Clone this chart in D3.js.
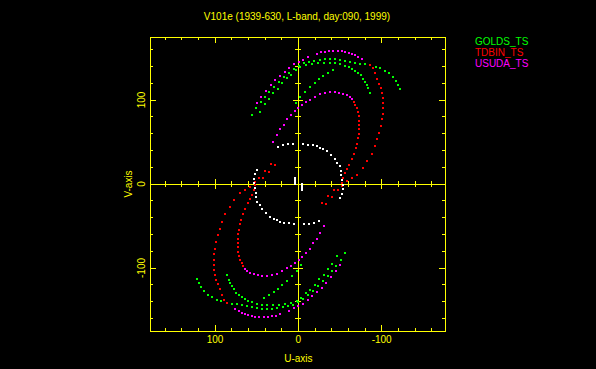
<!DOCTYPE html>
<html>
<head>
<meta charset="utf-8">
<script src="https://cdn.jsdelivr.net/npm/d3@7"></script>
<style>
  html, body { margin: 0; padding: 0; background: #000; }
  svg { display: block; }
  text { font-family: "Liberation Sans", Arial, sans-serif; font-size: 10px; }
</style>
</head>
<body>
<svg id="chart" width="596" height="369"></svg>
<script>
// baseline names shown in the legend
const baselines = ["GOLDS_TS", "TDBIN_TS", "USUDA_TS"];
const baselineColors = ["#00ff00", "#ff0000", "#ff00ff"];

// measured (u, v) samples, one half only; the conjugate (-u, -v) is plotted too
const goldsOuter = [[55.6,82.1],[50.8,90.4],[44.8,97.6],[40.0,103.5],[35.2,109.5],[29.2,115.4],[23.2,121.4],[17.2,127.3],[11.2,132.1],[5.2,136.9],[-0.8,140.4],[-6.8,144.0],[-12.8,145.2],[-18.8,146.4],[-26.0,147.6],[-32.0,148.8],[-38.0,148.8],[-44.0,148.8],[-50.0,147.6],[-56.0,146.4],[-62.0,145.2],[-68.0,144.0],[-74.0,142.8],[-80.0,142.8],[-86.0,141.6],[-93.2,139.2],[-98.0,138.0],[-104.0,134.5],[-108.8,132.1],[-113.6,127.3],[-117.2,122.6],[-119.6,117.8],[-122.0,113.1]];
const goldsMiddle = [[46.0,85.7],[40.0,95.2],[35.2,101.2],[30.4,108.3],[24.4,113.1],[19.6,120.2],[13.6,126.1],[8.8,129.7],[2.8,135.7],[-2.0,139.2],[-9.2,141.6],[-16.4,142.8],[-23.6,144.0],[-30.8,144.0],[-38.0,144.0],[-44.0,144.0],[-50.0,142.8],[-56.0,140.4],[-60.8,139.2],[-64.4,136.9],[-68.0,134.5],[-71.6,132.1],[-75.2,129.7],[-77.6,125.0],[-80.0,121.4],[-82.4,117.8],[-83.6,114.2],[-86.0,108.3]];
const goldsInner = [[2.8,96.6],[-2.0,103.8],[-8.0,109.7],[-14.0,115.6],[-20.0,120.4],[-24.8,125.2],[-29.6,128.7],[-35.6,132.3],[-41.6,135.9]];
const tdbinOuter = [[-86.0,141.6],[-89.6,138.0],[-92.0,132.1],[-94.4,125.0],[-96.8,119.0],[-99.2,114.2],[-100.4,108.3],[-101.6,102.3],[-101.6,96.4],[-101.6,90.4],[-101.6,83.3],[-100.4,77.4],[-99.2,69.0],[-96.8,60.7],[-94.4,53.6],[-92.0,45.2],[-88.4,35.7],[-82.4,27.4],[-77.6,19.0],[-70.4,10.7],[-64.4,7.1],[-58.4,3.6],[-52.4,-2.4],[-47.6,-7.1],[-40.4,-15.5],[-33.2,-23.8]];
const tdbinInner = [[-66.8,97.6],[-68.0,94.0],[-70.4,90.4],[-71.6,85.7],[-72.8,80.9],[-72.8,75.0],[-72.8,70.2],[-72.8,65.5],[-72.8,59.5],[-71.6,54.7],[-70.4,47.6],[-69.2,42.8],[-66.8,35.7],[-64.4,29.8],[-60.8,22.6],[-58.4,17.9],[-56.0,13.1],[-53.6,7.1],[-52.4,1.2],[-42.8,-7.1],[-35.6,-14.3],[-28.4,-22.6]];
const usudaOuter = [[49.6,96.4],[44.8,103.5],[38.8,110.7],[32.8,117.8],[28.0,123.8],[22.0,128.5],[16.0,133.3],[11.2,138.0],[5.2,142.8],[-0.8,145.2],[-5.6,147.6],[-11.6,151.1],[-22.4,154.7],[-27.2,157.1],[-32.0,157.1],[-36.8,158.3],[-41.6,158.3],[-47.6,158.3],[-52.4,158.3],[-56.0,157.1],[-60.8,155.9],[-64.4,154.7],[-68.0,153.5],[-71.6,151.1],[-76.4,148.8]];
const usudaInner = [[30.4,50.0],[25.6,58.3],[22.0,65.5],[17.2,70.2],[13.6,77.4],[8.8,82.1],[4.0,86.9],[0.4,90.4],[-4.4,94.0],[-9.2,97.6],[-14.0,100.0],[-20.0,103.5],[-26.0,107.1],[-32.0,108.3],[-38.0,109.5],[-44.0,109.5],[-48.8,108.3],[-53.6,107.1],[-58.4,105.9],[-62.0,103.5],[-64.4,101.2]];
const otherTrack = [[24.4,44.0],[18.4,46.4],[12.4,47.6],[6.4,47.6],[-5.6,47.6],[-11.6,46.4],[-17.6,46.4],[-22.4,45.2],[-26.0,42.8],[-29.6,41.7],[-34.4,39.3],[-39.2,34.5],[-44.0,29.8],[-46.4,25.0],[-50.0,21.4],[-51.2,15.5],[-51.2,10.7],[-52.4,4.8],[-53.6,-1.2],[-53.6,-6.0],[-52.4,-11.9],[-50.0,-16.7]];
const shortTrack = [[4.5,7.2],[4.5,6.0],[4.5,4.8],[4.5,3.6],[4.5,2.4],[4.5,1.2],[4.5,0.2]];

// axis ticks
const tickStep = 20;
const tickLabels = [100, 0, -100];
const titleText = "V101e (1939-630, L-band, day:090, 1999)";

const yellow = "#ffff00";
const svg = d3.select("#chart");
svg.append("rect").attr("width", 596).attr("height", 369).attr("fill", "#000");

const x = d3.scaleLinear().domain([178, -176]).range([150, 445]);
const y = d3.scaleLinear().domain([-175, 175]).range([331, 37]);
const [x0, x1] = x.range();
const [y0, y1] = [y.range()[1], y.range()[0]];

const ticks = d3.range(-160, 161, tickStep);
const isMajor = (t) => t % 100 === 0;

const axes = svg.append("g")
  .attr("stroke", yellow)
  .attr("stroke-width", 1)
  .attr("shape-rendering", "crispEdges");

// frame
axes.append("rect")
  .attr("x", x0).attr("y", y0)
  .attr("width", x1 - x0).attr("height", y1 - y0)
  .attr("fill", "none");

// zero lines
axes.append("line").attr("x1", x0).attr("x2", x1).attr("y1", y(0)).attr("y2", y(0));
axes.append("line").attr("x1", x(0)).attr("x2", x(0)).attr("y1", y0).attr("y2", y1);

// frame ticks (pointing inward)
const tl = (t) => (isMajor(t) ? 6 : 3);
axes.selectAll(".tb").data(ticks).join("line")
  .attr("x1", (d) => x(d)).attr("x2", (d) => x(d))
  .attr("y1", y1).attr("y2", (d) => y1 - tl(d));
axes.selectAll(".tt").data(ticks).join("line")
  .attr("x1", (d) => x(d)).attr("x2", (d) => x(d))
  .attr("y1", y0).attr("y2", (d) => y0 + tl(d));
axes.selectAll(".tlft").data(ticks).join("line")
  .attr("y1", (d) => y(d)).attr("y2", (d) => y(d))
  .attr("x1", x0).attr("x2", (d) => x0 + tl(d));
axes.selectAll(".trgt").data(ticks).join("line")
  .attr("y1", (d) => y(d)).attr("y2", (d) => y(d))
  .attr("x1", x1).attr("x2", (d) => x1 - tl(d));

// ticks across the zero lines
const cl = (t) => (isMajor(t) ? 5 : 3);
axes.selectAll(".cu").data(ticks).join("line")
  .attr("x1", (d) => x(d)).attr("x2", (d) => x(d))
  .attr("y1", (d) => y(0) - cl(d)).attr("y2", (d) => y(0) + cl(d));
axes.selectAll(".cv").data(ticks).join("line")
  .attr("y1", (d) => y(d)).attr("y2", (d) => y(d))
  .attr("x1", (d) => x(0) - cl(d)).attr("x2", (d) => x(0) + cl(d));

// tick labels
svg.selectAll(".ul").data(tickLabels).join("text")
  .attr("x", (d) => x(d)).attr("y", 343)
  .attr("text-anchor", "middle").attr("fill", yellow)
  .text((d) => d);
svg.selectAll(".vl").data(tickLabels).join("text")
  .attr("transform", (d) => `translate(145,${y(d)}) rotate(-90)`)
  .attr("text-anchor", "middle").attr("fill", yellow)
  .text((d) => d);

svg.append("text")
  .attr("x", x(0)).attr("y", 362)
  .attr("text-anchor", "middle").attr("fill", yellow)
  .text("U-axis");
svg.append("text")
  .attr("transform", `translate(131.5,${y(0)}) rotate(-90)`)
  .attr("text-anchor", "middle").attr("fill", yellow)
  .text("V-axis");
svg.append("text")
  .attr("x", 297).attr("y", 20)
  .attr("text-anchor", "middle").attr("fill", yellow)
  .text(titleText);

// legend
svg.selectAll(".leg").data(baselines).join("text")
  .attr("x", 475).attr("y", (d, i) => 45 + i * 10.8)
  .attr("fill", (d, i) => baselineColors[i])
  .text((d) => d);

// uv points with their conjugates
const tracks = [
  { pts: goldsOuter, color: baselineColors[0] },
  { pts: goldsMiddle, color: baselineColors[0] },
  { pts: goldsInner, color: baselineColors[0] },
  { pts: tdbinOuter, color: baselineColors[1] },
  { pts: tdbinInner, color: baselineColors[1] },
  { pts: usudaOuter, color: baselineColors[2] },
  { pts: usudaInner, color: baselineColors[2] },
  { pts: otherTrack, color: "#ffffff" },
  { pts: shortTrack, color: "#ffffff" },
];

const dots = svg.append("g").attr("shape-rendering", "crispEdges");
tracks.forEach((tr) => {
  const all = tr.pts.concat(tr.pts.map(([u, v]) => [-u, -v]));
  dots.append("g")
    .attr("fill", tr.color)
    .selectAll("rect")
    .data(all)
    .join("rect")
    .attr("x", (d) => x(d[0]) - 1)
    .attr("y", (d) => y(d[1]) - 0.75)
    .attr("width", 2)
    .attr("height", 1.5);
});
</script>
</body>
</html>
